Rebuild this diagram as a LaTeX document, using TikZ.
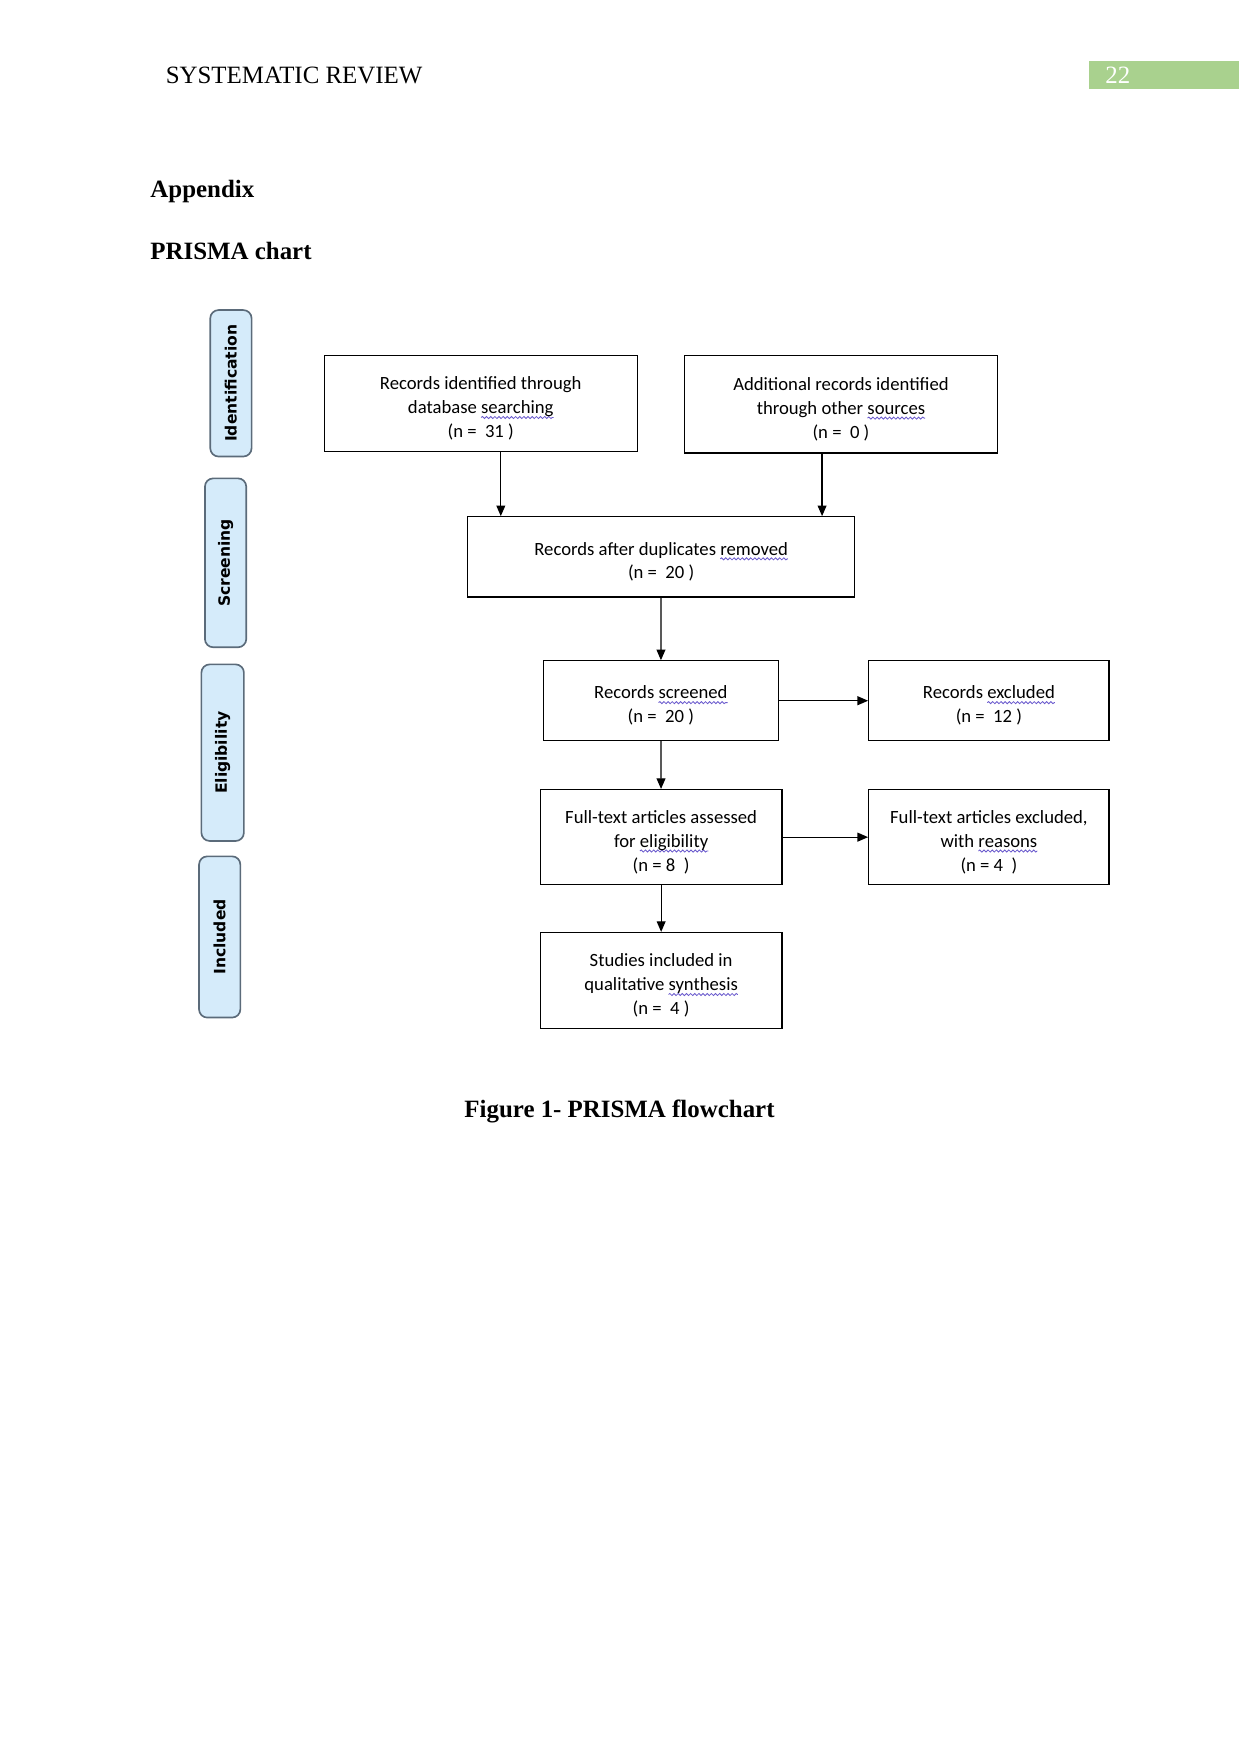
\documentclass[tikz,border=0pt]{standalone}
\usepackage{fontspec}
\setmainfont{Liberation Serif}
\newfontfamily\boxfont{Carlito}
\newfontfamily\sidefont{DejaVu Sans}
\usetikzlibrary{arrows.meta,decorations.pathmorphing}
\definecolor{pagegreen}{HTML}{A9D18E}
\definecolor{sidefill}{HTML}{D5EBFA}
\definecolor{sidedraw}{HTML}{5B6B7A}
\definecolor{wavy}{HTML}{6A5ACD}
\newsavebox\sqbox
\newcommand\sq[1]{\sbox\sqbox{#1}\rlap{\tikz[overlay]\draw[wavy, line width=0.4pt, decorate,
  decoration={snake, amplitude=0.5pt, segment length=2pt}] (0,-1.8pt) -- (\the\wd\sqbox,-1.8pt);}\usebox\sqbox}
\newcommand\lift{\rule{0pt}{11pt}}
\tikzset{
  box/.style={draw, line width=0.6pt, align=center, inner sep=0pt,
    font=\boxfont\fontsize{9}{11.5}\selectfont},
  side/.style={draw=sidedraw, fill=sidefill, line width=0.8pt, rounded corners=4pt,
    rotate=90, inner sep=0pt, font=\sidefont\bfseries\fontsize{7.5}{9}\selectfont},
  arr/.style={-{Triangle[length=1.8mm,width=1.5mm]}, line width=0.6pt}
}
\begin{document}
\begin{tikzpicture}
\useasboundingbox (0,0) rectangle (21,-29.7);
% 页眉
\node[anchor=base west, inner sep=0pt, font=\fontsize{12}{14}\selectfont] (head) at (2.80,-1.42) {SYSTEMATIC REVIEW};
\fill[pagegreen] (18.44,-1.04) rectangle (20.98,-1.51);
\node[anchor=base west, inner sep=0pt, text=white, font=\fontsize{12}{14}\selectfont] (page) at (18.71,-1.42) {22};
% 标题
\node[anchor=base west, inner sep=0pt, font=\bfseries\fontsize{12}{14}\selectfont] (app) at (2.54,-3.35) {Appendix};
\node[anchor=base west, inner sep=0pt, font=\bfseries\fontsize{12}{14}\selectfont] (chart) at (2.54,-4.39) {PRISMA chart};
% 侧栏
\node[side, minimum width=2.48cm, minimum height=0.70cm] (ident) at (3.91,-6.49) {Identification};
\node[side, minimum width=2.86cm, minimum height=0.70cm] (screen) at (3.82,-9.53) {Screening};
\node[side, minimum width=2.99cm, minimum height=0.72cm] (elig) at (3.77,-12.745) {Eligibility};
\node[side, minimum width=2.73cm, minimum height=0.70cm] (incl) at (3.72,-15.865) {Included};
% 框
\node[box, minimum width=5.30cm, minimum height=1.63cm] (db) at (8.14,-6.835)
  {\lift Records identified through\\database \sq{searching}\\(n =~ 31 )};
\node[box, minimum width=5.30cm, minimum height=1.65cm] (other) at (14.24,-6.845)
  {\lift Additional records identified\\through other \sq{sources}\\(n =~ 0 )};
\node[box, minimum width=6.55cm, minimum height=1.36cm] (dup) at (11.195,-9.43)
  {\lift Records after duplicates \sq{removed}\\(n =~ 20 )};
\node[box, minimum width=3.98cm, minimum height=1.35cm] (screened) at (11.19,-11.865)
  {\lift Records \sq{screened}\\(n =~ 20 )};
\node[box, minimum width=4.07cm, minimum height=1.35cm] (excl) at (16.745,-11.865)
  {\lift Records \sq{excluded}\\(n =~ 12 )};
\node[box, minimum width=4.09cm, minimum height=1.61cm] (full) at (11.195,-14.175)
  {\lift Full-text articles assessed\\for \sq{eligibility}\\(n = 8~ )};
\node[box, minimum width=4.07cm, minimum height=1.61cm] (fullex) at (16.745,-14.175)
  {\lift Full-text articles excluded,\\with \sq{reasons}\\(n = 4~ )};
\node[box, minimum width=4.09cm, minimum height=1.63cm] (studies) at (11.195,-16.605)
  {\lift Studies included in\\qualitative \sq{synthesis}\\(n =~ 4 )};
% 箭头
\draw[arr] ([xshift=0.34cm]db.south) -- ([xshift=0.34cm]db.south |- dup.north);
\draw[arr] ([xshift=-0.32cm]other.south) -- ([xshift=-0.32cm]other.south |- dup.north);
\draw[arr] (dup) -- (screened);
\draw[arr] (screened) -- (excl);
\draw[arr] (screened) -- (full);
\draw[arr] (full) -- (fullex);
\draw[arr] (full) -- (studies);
% 图题
\node[anchor=base, inner sep=0pt, font=\bfseries\fontsize{12}{14}\selectfont] (cap) at (10.49,-18.92) {Figure 1- PRISMA flowchart};
\end{tikzpicture}
\end{document}
